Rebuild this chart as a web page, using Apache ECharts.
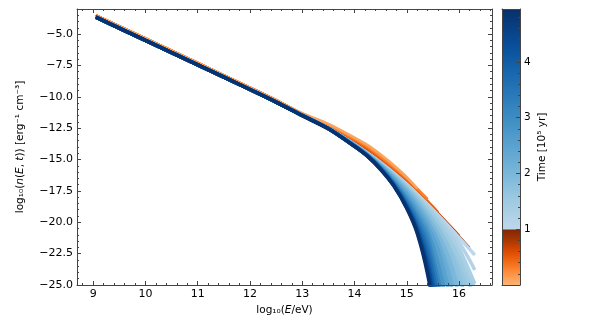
<!DOCTYPE html>
<html>
<head>
<meta charset="utf-8">
<script src="https://cdn.jsdelivr.net/npm/echarts@6/dist/echarts.min.js"></script>
<style>
    html, body { margin: 0; padding: 0; background: #fff; }
    #chart { width: 589px; height: 321px; }
</style>
</head>
<body>
<div id="chart"></div>
<script>
// common power-law part of every spectrum
const trunkX = [9.05, 10, 11, 12, 12.5];
const trunkBlue = [-3.65, -5.5, -7.45, -9.42, -10.42];
const trunkOrange = [-3.5, -5.35, -7.3, -9.27, -10.27];

// energies of the cut-off part, log10(E/eV)
const tailX = [13, 13.5, 14, 14.25, 14.5, 14.75, 15, 15.2, 15.4, 15.6, 15.8, 16, 16.2, 16.3];

// early spectra, t < 1e5 yr
const orangeTimes = [0.1, 0.3, 0.5, 0.7, 0.9];
const orangeTails = [
    [-11.3, -12.15, -13.25, -13.85, -14.6, -15.45, -16.4, -17.3],
    [-11.33, -12.22, -13.38, -14.0, -14.78, -15.62, -16.52, -17.32, -18.15],
    [-11.36, -12.3, -13.5, -14.15, -14.92, -15.78, -16.68, -17.48, -18.32, -19.2],
    [-11.38, -12.38, -13.62, -14.32, -15.08, -15.92, -16.82, -17.6, -18.42, -19.28, -20.16, -21.06],
    [-11.4, -12.42, -13.68, -14.4, -15.15, -15.98, -16.88, -17.66, -18.48, -19.34, -20.22, -21.12, -22.04]
];

// later spectra, t >= 1e5 yr
const blueTimes = [1.0, 1.15, 1.3, 1.5, 1.75, 2.0, 2.25, 2.5, 2.8, 3.1, 3.4, 3.7, 4.0, 4.3, 4.6, 4.9];
const blueTails = [
    [-11.45, -12.5, -13.8, -14.5, -15.25, -16.08, -16.98, -17.76, -18.58, -19.44, -20.32, -21.22, -22.14, -22.61],
    [-11.45, -12.5, -13.8, -14.5, -15.27, -16.1, -17.02, -17.82, -18.66, -19.55, -20.5, -21.6, -23.0, -23.8],
    [-11.45, -12.5, -13.8, -14.52, -15.3, -16.15, -17.08, -17.9, -18.78, -19.72, -20.8, -22.1, -23.9, -24.9],
    [-11.45, -12.5, -13.8, -14.53, -15.33, -16.2, -17.15, -18.0, -18.95, -20.0, -21.3, -22.9, -25.0, -26.3],
    [-11.45, -12.5, -13.82, -14.55, -15.37, -16.28, -17.28, -18.2, -19.25, -20.45, -22.0, -24.3, -27.2],
    [-11.45, -12.5, -13.83, -14.58, -15.42, -16.38, -17.45, -18.45, -19.6, -21.0, -22.9, -25.8],
    [-11.46, -12.51, -13.85, -14.6, -15.47, -16.48, -17.62, -18.7, -19.95, -21.55, -24.2, -27.6],
    [-11.46, -12.51, -13.86, -14.62, -15.52, -16.58, -17.8, -18.95, -20.3, -22.2, -25.4, -28.8],
    [-11.47, -12.52, -13.88, -14.64, -15.58, -16.7, -18.0, -19.25, -20.75, -23.4, -27.0],
    [-11.47, -12.52, -13.9, -14.67, -15.63, -16.8, -18.2, -19.55, -21.2, -24.5, -28.5],
    [-11.48, -12.53, -13.91, -14.69, -15.67, -16.88, -18.38, -19.85, -21.75, -25.3],
    [-11.48, -12.53, -13.92, -14.71, -15.7, -16.95, -18.55, -20.15, -22.3, -26.2],
    [-11.49, -12.54, -13.93, -14.72, -15.73, -17.0, -18.68, -20.4, -22.9, -27.0],
    [-11.49, -12.54, -13.94, -14.73, -15.76, -17.05, -18.78, -20.6, -23.4, -27.8],
    [-11.5, -12.55, -13.95, -14.74, -15.78, -17.08, -18.85, -20.75, -23.8, -28.4],
    [-11.5, -12.55, -13.95, -14.75, -15.8, -17.1, -18.9, -20.9, -24.2, -29.0]
];

const xTicks = [9, 10, 11, 12, 13, 14, 15, 16];
const yTicks = [-25, -22.5, -20, -17.5, -15, -12.5, -10, -7.5, -5];
const cbarTicks = [1, 2, 3, 4];
const cbarSegments = [[0, 1], [1, 4.95]];

(function (echarts) {
    'use strict';

    const orangeStops = [[0, '#fdb576'], [0.04, '#fdae6b'], [0.23, '#fd8d3c'], [0.42, '#f16913'],
        [0.62, '#d94801'], [0.81, '#a63603'], [1, '#7f2704']];
    const blueStops = [[0, '#bdd7ec'], [0.132, '#9ecae1'], [0.306, '#6baed6'], [0.479, '#4292c6'],
        [0.653, '#2171b5'], [0.826, '#08519c'], [1, '#08306b']];

    const hexRgb = function (h) {
        return [1, 3, 5].map(function (i) { return parseInt(h.substr(i, 2), 16); });
    };
    const pickColor = function (stops, f) {
        f = Math.max(0, Math.min(1, f));
        for (let i = 1; i < stops.length; i++) {
            if (f <= stops[i][0]) {
                const k = (f - stops[i - 1][0]) / (stops[i][0] - stops[i - 1][0]);
                const a = hexRgb(stops[i - 1][1]), b = hexRgb(stops[i][1]);
                return 'rgb(' + a.map(function (c, j) { return Math.round(c + (b[j] - c) * k); }).join(',') + ')';
            }
        }
        return stops[stops.length - 1][1];
    };
    const tMax = cbarSegments[1][1];
    const orangeColor = function (t) { return pickColor(orangeStops, t / cbarSegments[0][1]); };
    const blueColor = function (t) { return pickColor(blueStops, (t - cbarSegments[1][0]) / (tMax - cbarSegments[1][0])); };

    const curvePoints = function (trunk, tail) {
        const pts = trunkX.map(function (x, i) { return [x, trunk[i]]; });
        tail.forEach(function (y, i) { pts.push([tailX[i], y]); });
        return pts;
    };

    const minorX = [], minorY = [], minorC = [];
    for (let k = 44; k <= 83; k++) if (k % 5 !== 0) minorX.push(k / 5);
    for (let k = -49; k <= -7; k++) if (k % 5 !== 0) minorY.push(k / 2);
    for (let k = 1; k <= 24; k++) if (k % 5 !== 0) minorC.push(k / 5);

    const frame = '#444';
    const font = 'DejaVu Sans';
    const tickAxis = function (extra, major, minor) {
        const base = {
            type: 'value', z: 10,
            splitLine: {show: false},
            axisLine: {show: false, onZero: false, lineStyle: {color: frame, width: 1}},
            axisTick: {show: true, inside: true, length: major ? 4 : 2,
                customValues: major || minor, lineStyle: {color: frame, width: 1}},
            axisLabel: {show: false}
        };
        return Object.assign(base, extra);
    };

    const minusFmt = function (v) { return v.toFixed(1).replace('-', '\u2212'); };

    const xAxes = [
        tickAxis({gridIndex: 0, min: 8.69, max: 16.63, position: 'bottom',
            axisLine: {show: true, onZero: false, lineStyle: {color: frame}},
            axisLabel: {show: true, customValues: xTicks, margin: 4, color: '#000',
                fontFamily: font, fontSize: 11},
            name: 'log\u2081\u2080({i|E}/eV)', nameLocation: 'middle', nameGap: 15,
            nameTextStyle: {fontFamily: font, fontSize: 10.5, color: '#000',
                rich: {i: {fontFamily: font, fontSize: 10.5, fontStyle: 'italic', color: '#000'}}}
        }, xTicks),
        tickAxis({gridIndex: 0, min: 8.69, max: 16.63, position: 'bottom'}, null, minorX),
        tickAxis({gridIndex: 0, min: 8.69, max: 16.63, position: 'top',
            axisLine: {show: true, onZero: false, lineStyle: {color: frame}}}, xTicks),
        tickAxis({gridIndex: 0, min: 8.69, max: 16.63, position: 'top'}, null, minorX),
        {type: 'value', gridIndex: 1, min: 0, max: 1, position: 'bottom', z: 10,
            axisLine: {show: true, onZero: false, lineStyle: {color: frame}},
            axisTick: {show: false}, axisLabel: {show: false}, splitLine: {show: false}},
        {type: 'value', gridIndex: 1, min: 0, max: 1, position: 'top', z: 10,
            axisLine: {show: true, onZero: false, lineStyle: {color: frame}},
            axisTick: {show: false}, axisLabel: {show: false}, splitLine: {show: false}}
    ];

    const yAxes = [
        tickAxis({gridIndex: 0, min: -25, max: -3, position: 'left',
            axisLine: {show: true, onZero: false, lineStyle: {color: frame}},
            axisLabel: {show: true, customValues: yTicks, margin: 4, color: '#000',
                fontFamily: font, fontSize: 11, formatter: minusFmt},
            name: 'log\u2081\u2080({i|n}({i|E}, {i|t})) [erg\u207b\u00b9 cm\u207b\u00b3]',
            nameLocation: 'middle', nameRotate: 90, nameGap: 51,
            nameTextStyle: {fontFamily: font, fontSize: 10.5, color: '#000',
                rich: {i: {fontFamily: font, fontSize: 10.5, fontStyle: 'italic', color: '#000'}}}
        }, yTicks),
        tickAxis({gridIndex: 0, min: -25, max: -3, position: 'left'}, null, minorY),
        tickAxis({gridIndex: 0, min: -25, max: -3, position: 'right',
            axisLine: {show: true, onZero: false, lineStyle: {color: frame}}}, yTicks),
        tickAxis({gridIndex: 0, min: -25, max: -3, position: 'right'}, null, minorY),
        tickAxis({gridIndex: 1, min: 0, max: tMax, position: 'right',
            axisLine: {show: true, onZero: false, lineStyle: {color: frame}},
            axisLabel: {show: true, customValues: cbarTicks, margin: 4, color: '#000',
                fontFamily: font, fontSize: 10.5},
            name: 'Time [10\u2075 yr]', nameLocation: 'middle', nameRotate: 90, nameGap: 17,
            nameTextStyle: {fontFamily: font, fontSize: 10.5, color: '#000'}
        }, cbarTicks),
        tickAxis({gridIndex: 1, min: 0, max: tMax, position: 'right'}, null, minorC),
        {type: 'value', gridIndex: 1, min: 0, max: tMax, position: 'left', z: 10,
            axisLine: {show: true, onZero: false, lineStyle: {color: frame}},
            axisTick: {show: false}, axisLabel: {show: false}, splitLine: {show: false}}
    ];

    const series = [];

    // latest orange first so the lighter, shorter ones sit on top
    for (let i = orangeTimes.length - 1; i >= 0; i--) {
        series.push({
            type: 'line', xAxisIndex: 0, yAxisIndex: 0, z: 2,
            data: curvePoints(trunkOrange, orangeTails[i]),
            smooth: 0.3, symbol: 'none', silent: true,
            lineStyle: {color: orangeColor(orangeTimes[i]), width: 2.5}
        });
    }

    // colour between neighbouring later spectra
    series.push({
        type: 'custom', xAxisIndex: 0, yAxisIndex: 0, z: 3, clip: true, silent: true,
        data: blueTimes.slice(3).map(function (t, i) { return [i + 2, i + 2]; }),
        renderItem: function (params, api) {
            const i = params.dataIndex + 2;
            const a = blueTails[i], b = blueTails[i + 1];
            const pts = a.map(function (y, j) { return api.coord([tailX[j], y]); });
            for (let j = b.length - 1; j >= 0; j--) pts.push(api.coord([tailX[j], b[j]]));
            return {
                type: 'polygon', shape: {points: pts, smooth: 0.2},
                style: {fill: blueColor((blueTimes[i] + blueTimes[i + 1]) / 2)}
            };
        }
    });

    blueTimes.forEach(function (t, i) {
        series.push({
            type: 'line', xAxisIndex: 0, yAxisIndex: 0, z: 4,
            data: curvePoints(trunkBlue, blueTails[i]),
            smooth: 0.3, symbol: 'none', silent: true,
            lineStyle: {color: blueColor(t), width: 3.5}
        });
    });

    series.push({
        type: 'custom', xAxisIndex: 4, yAxisIndex: 4, z: 2, silent: true,
        data: cbarSegments.map(function (s) { return [s[0], s[1]]; }),
        renderItem: function (params, api) {
            const seg = cbarSegments[params.dataIndex];
            const lo = api.coord([0, seg[0]]), hi = api.coord([1, seg[1]]);
            const stops = params.dataIndex === 0 ? orangeStops : blueStops;
            return {
                type: 'rect',
                shape: {x: lo[0], y: hi[1], width: hi[0] - lo[0], height: lo[1] - hi[1]},
                style: {fill: new echarts.graphic.LinearGradient(0, 1, 0, 0,
                    stops.map(function (s) { return {offset: s[0], color: s[1]}; }))}
            };
        }
    });

    const chart = echarts.init(document.getElementById('chart'), null, {renderer: 'canvas'});
    chart.setOption({
        backgroundColor: '#fff',
        animation: false,
        grid: [
            {left: 77, top: 9, width: 415, height: 276},
            {left: 502, top: 9, width: 18, height: 276}
        ],
        xAxis: xAxes,
        yAxis: yAxes,
        series: series
    });
})(echarts);
</script>
</body>
</html>
